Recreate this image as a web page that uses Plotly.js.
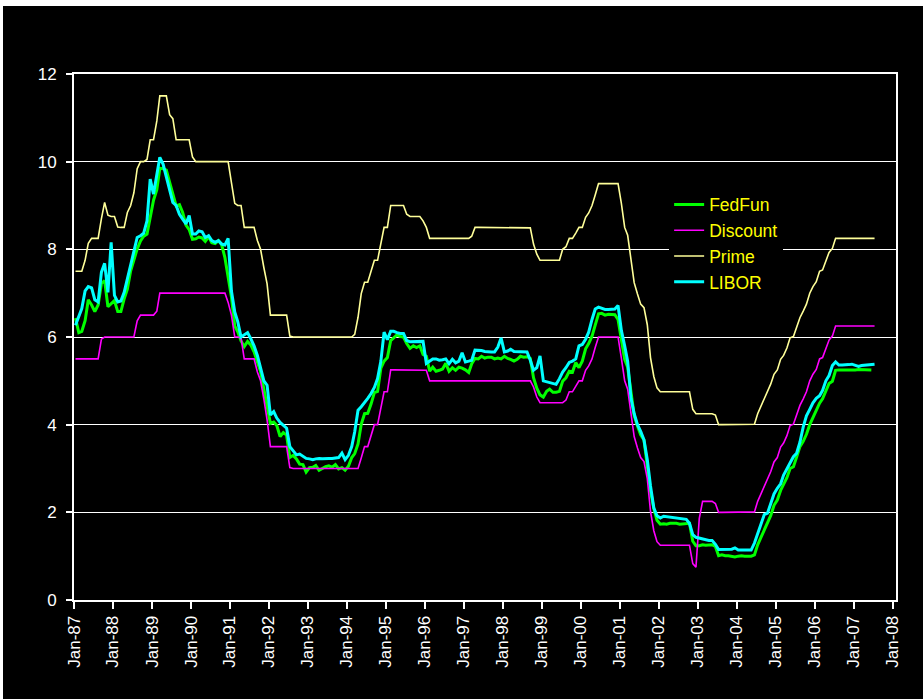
<!DOCTYPE html>
<html>
<head>
<meta charset="utf-8">
<script src="https://cdn.plot.ly/plotly-3.0.1.min.js"></script>
<style>
  html, body { margin: 0; padding: 0; background: #ffffff; }
  #chart { position: absolute; left: 3px; top: 6px; width: 920px; height: 693px; }
</style>
</head>
<body>
<div id="chart"></div>
<script>
// Monthly U.S. interest rates, January 1987 onward (percent).
const startYear = 1987;

const fedFunds = [
  6.43, 6.10, 6.13, 6.37, 6.85, 6.73, 6.58, 6.73, 7.22, 7.29, 6.69, 6.77,
  6.83, 6.58, 6.58, 6.87, 7.09, 7.51, 7.75, 8.01, 8.19, 8.30, 8.35, 8.76,
  9.12, 9.36, 9.85, 9.84, 9.81, 9.53, 9.24, 8.99, 9.02, 8.84, 8.55, 8.45,
  8.23, 8.24, 8.28, 8.26, 8.18, 8.29, 8.15, 8.13, 8.20, 8.11, 7.81, 7.31,
  6.91, 6.25, 6.12, 5.91, 5.78, 5.90, 5.82, 5.66, 5.45, 5.21, 4.81, 4.43,
  4.03, 4.06, 3.98, 3.73, 3.82, 3.76, 3.25, 3.30, 3.22, 3.10, 3.09, 2.92,
  3.02, 3.03, 3.07, 2.96, 3.00, 3.04, 3.06, 3.03, 3.09, 2.99, 3.02, 2.96,
  3.05, 3.25, 3.34, 3.56, 4.01, 4.25, 4.26, 4.47, 4.73, 4.76, 5.29, 5.45,
  5.53, 5.92, 5.98, 6.05, 6.01, 6.00, 5.85, 5.74, 5.80, 5.76, 5.80, 5.60,
  5.56, 5.22, 5.31, 5.22, 5.24, 5.27, 5.40, 5.22, 5.30, 5.24, 5.31, 5.29,
  5.25, 5.19, 5.39, 5.51, 5.50, 5.56, 5.52, 5.54, 5.54, 5.50, 5.52, 5.50,
  5.56, 5.51, 5.49, 5.45, 5.49, 5.56, 5.54, 5.55, 5.51, 5.07, 4.83, 4.68,
  4.63, 4.76, 4.81, 4.74, 4.74, 4.76, 4.99, 5.07, 5.22, 5.20, 5.42, 5.30,
  5.45, 5.73, 5.85, 6.02, 6.27, 6.53, 6.54, 6.50, 6.52, 6.51, 6.51, 6.40,
  5.98, 5.49, 5.31, 4.80, 4.21, 3.97, 3.77, 3.65, 3.07, 2.49, 2.09, 1.82,
  1.73, 1.74, 1.73, 1.75, 1.75, 1.75, 1.73, 1.74, 1.75, 1.75, 1.34, 1.24,
  1.24, 1.26, 1.25, 1.26, 1.26, 1.22, 1.01, 1.03, 1.01, 1.01, 1.00, 0.98,
  1.00, 1.01, 1.00, 1.00, 1.00, 1.03, 1.26, 1.43, 1.61, 1.76, 1.93, 2.16,
  2.28, 2.50, 2.63, 2.79, 3.00, 3.04, 3.26, 3.50, 3.62, 3.78, 4.00, 4.16,
  4.29, 4.49, 4.59, 4.79, 4.94, 4.99, 5.24, 5.25, 5.25, 5.25, 5.25, 5.24,
  5.25, 5.26, 5.26, 5.25, 5.25, 5.25
];

const discount = [
  5.50, 5.50, 5.50, 5.50, 5.50, 5.50, 5.50, 5.50, 5.95, 6.00, 6.00, 6.00,
  6.00, 6.00, 6.00, 6.00, 6.00, 6.00, 6.00, 6.37, 6.50, 6.50, 6.50, 6.50,
  6.50, 6.59, 7.00, 7.00, 7.00, 7.00, 7.00, 7.00, 7.00, 7.00, 7.00, 7.00,
  7.00, 7.00, 7.00, 7.00, 7.00, 7.00, 7.00, 7.00, 7.00, 7.00, 7.00, 6.79,
  6.50, 6.00, 6.00, 5.98, 5.50, 5.50, 5.50, 5.50, 5.20, 5.00, 4.58, 4.11,
  3.50, 3.50, 3.50, 3.50, 3.50, 3.50, 3.02, 3.00, 3.00, 3.00, 3.00, 3.00,
  3.00, 3.00, 3.00, 3.00, 3.00, 3.00, 3.00, 3.00, 3.00, 3.00, 3.00, 3.00,
  3.00, 3.00, 3.00, 3.00, 3.24, 3.50, 3.50, 3.76, 4.00, 4.00, 4.40, 4.75,
  4.75, 5.25, 5.25, 5.25, 5.25, 5.25, 5.25, 5.25, 5.25, 5.25, 5.25, 5.25,
  5.24, 5.00, 5.00, 5.00, 5.00, 5.00, 5.00, 5.00, 5.00, 5.00, 5.00, 5.00,
  5.00, 5.00, 5.00, 5.00, 5.00, 5.00, 5.00, 5.00, 5.00, 5.00, 5.00, 5.00,
  5.00, 5.00, 5.00, 5.00, 5.00, 5.00, 5.00, 5.00, 5.00, 4.86, 4.63, 4.50,
  4.50, 4.50, 4.50, 4.50, 4.50, 4.50, 4.50, 4.56, 4.75, 4.75, 4.88, 5.00,
  5.00, 5.24, 5.34, 5.50, 5.76, 6.00, 6.00, 6.00, 6.00, 6.00, 6.00, 6.00,
  5.52, 5.00, 4.81, 4.28, 3.73, 3.47, 3.25, 3.16, 2.77, 2.02, 1.58, 1.33,
  1.25, 1.25, 1.25, 1.25, 1.25, 1.25, 1.25, 1.25, 1.25, 1.25, 0.83, 0.75,
  1.86, 2.25, 2.25, 2.25, 2.25, 2.20, 2.00, 2.00, 2.00, 2.00, 2.00, 2.00,
  2.00, 2.00, 2.00, 2.00, 2.00, 2.01, 2.25, 2.43, 2.58, 2.75, 2.93, 3.15,
  3.25, 3.49, 3.58, 3.75, 3.98, 4.01, 4.25, 4.44, 4.59, 4.75, 5.00, 5.15,
  5.26, 5.50, 5.53, 5.75, 5.93, 6.02, 6.25, 6.25, 6.25, 6.25, 6.25, 6.25,
  6.25, 6.25, 6.25, 6.25, 6.25, 6.25, 6.25
];

const prime = [
  7.50, 7.50, 7.50, 7.75, 8.14, 8.25, 8.25, 8.25, 8.70, 9.07, 8.78, 8.75,
  8.75, 8.51, 8.50, 8.50, 8.84, 9.00, 9.29, 9.84, 10.00, 10.00, 10.05, 10.50,
  10.50, 10.93, 11.50, 11.50, 11.50, 11.07, 10.98, 10.50, 10.50, 10.50, 10.50, 10.50,
  10.11, 10.00, 10.00, 10.00, 10.00, 10.00, 10.00, 10.00, 10.00, 10.00, 10.00, 10.00,
  9.52, 9.05, 9.00, 9.00, 8.50, 8.50, 8.50, 8.50, 8.20, 8.00, 7.58, 7.21,
  6.50, 6.50, 6.50, 6.50, 6.50, 6.50, 6.02, 6.00, 6.00, 6.00, 6.00, 6.00,
  6.00, 6.00, 6.00, 6.00, 6.00, 6.00, 6.00, 6.00, 6.00, 6.00, 6.00, 6.00,
  6.00, 6.00, 6.06, 6.45, 6.99, 7.25, 7.25, 7.51, 7.75, 7.75, 8.15, 8.50,
  8.50, 9.00, 9.00, 9.00, 9.00, 9.00, 8.80, 8.75, 8.75, 8.75, 8.75, 8.65,
  8.50, 8.25, 8.25, 8.25, 8.25, 8.25, 8.25, 8.25, 8.25, 8.25, 8.25, 8.25,
  8.25, 8.25, 8.30, 8.50, 8.50, 8.50, 8.50, 8.50, 8.50, 8.50, 8.50, 8.50,
  8.50, 8.50, 8.50, 8.50, 8.50, 8.50, 8.50, 8.50, 8.49, 8.12, 7.89, 7.75,
  7.75, 7.75, 7.75, 7.75, 7.75, 7.75, 8.00, 8.06, 8.25, 8.25, 8.37, 8.50,
  8.50, 8.73, 8.83, 9.00, 9.24, 9.50, 9.50, 9.50, 9.50, 9.50, 9.50, 9.50,
  9.05, 8.50, 8.32, 7.80, 7.24, 6.98, 6.75, 6.67, 6.28, 5.53, 5.10, 4.84,
  4.75, 4.75, 4.75, 4.75, 4.75, 4.75, 4.75, 4.75, 4.75, 4.75, 4.35, 4.25,
  4.25, 4.25, 4.25, 4.25, 4.25, 4.22, 4.00, 4.00, 4.00, 4.00, 4.00, 4.00,
  4.00, 4.00, 4.00, 4.00, 4.00, 4.01, 4.25, 4.43, 4.58, 4.75, 4.93, 5.15,
  5.25, 5.49, 5.58, 5.75, 5.98, 6.01, 6.25, 6.44, 6.59, 6.75, 7.00, 7.15,
  7.26, 7.50, 7.53, 7.75, 7.93, 8.02, 8.25, 8.25, 8.25, 8.25, 8.25, 8.25,
  8.25, 8.25, 8.25, 8.25, 8.25, 8.25, 8.25
];

const libor = [
  6.27, 6.45, 6.65, 7.05, 7.15, 7.12, 6.85, 6.80, 7.48, 7.68, 7.02, 8.16,
  6.95, 6.80, 6.82, 7.02, 7.33, 7.63, 7.93, 8.27, 8.31, 8.37, 8.65, 9.60,
  9.26, 9.67, 10.10, 9.94, 9.67, 9.37, 9.07, 9.00, 8.80, 8.69, 8.58, 8.77,
  8.35, 8.35, 8.42, 8.40, 8.27, 8.31, 8.20, 8.16, 8.20, 8.12, 8.10, 8.25,
  7.05, 6.57, 6.35, 6.00, 6.05, 6.10, 5.96, 5.80, 5.58, 5.30, 5.00, 4.90,
  4.22, 4.30, 4.15, 4.05, 3.99, 3.92, 3.50, 3.39, 3.31, 3.33, 3.28, 3.23,
  3.22, 3.20, 3.22, 3.23, 3.22, 3.23, 3.23, 3.23, 3.24, 3.25, 3.35, 3.20,
  3.30, 3.50, 3.84, 4.33, 4.41, 4.50, 4.60, 4.71, 4.85, 5.05, 5.45, 6.11,
  5.94, 6.13, 6.13, 6.10, 6.08, 6.08, 5.92, 5.89, 5.89, 5.89, 5.89, 5.90,
  5.40, 5.45, 5.50, 5.50, 5.47, 5.48, 5.50, 5.39, 5.49, 5.41, 5.45, 5.64,
  5.43, 5.45, 5.47, 5.70, 5.70, 5.69, 5.67, 5.66, 5.66, 5.66, 5.77, 5.98,
  5.66, 5.68, 5.72, 5.67, 5.67, 5.67, 5.67, 5.66, 5.47, 5.24, 5.30, 5.57,
  5.00, 4.98, 4.96, 4.94, 4.92, 5.05, 5.20, 5.30, 5.42, 5.45, 5.50, 5.80,
  5.83, 5.95, 6.11, 6.40, 6.64, 6.68, 6.65, 6.63, 6.63, 6.63, 6.64, 6.72,
  6.15, 5.80, 5.45, 4.60, 4.25, 4.00, 3.85, 3.65, 3.20, 2.60, 2.10, 1.92,
  1.87, 1.91, 1.90, 1.89, 1.87, 1.87, 1.86, 1.84, 1.84, 1.75, 1.49, 1.43,
  1.41, 1.39, 1.37, 1.36, 1.36, 1.27, 1.15, 1.15, 1.15, 1.15, 1.16, 1.19,
  1.14, 1.14, 1.14, 1.14, 1.14, 1.30, 1.50, 1.75, 1.95, 1.98, 2.20, 2.42,
  2.55, 2.65, 2.85, 3.00, 3.15, 3.27, 3.35, 3.60, 3.95, 4.20, 4.35, 4.50,
  4.60, 4.66, 4.78, 5.00, 5.12, 5.35, 5.43, 5.36, 5.36, 5.36, 5.37, 5.38,
  5.35, 5.33, 5.35, 5.36, 5.36, 5.38, 5.38
];

const seriesNames = ['FedFun', 'Discount', 'Prime', 'LIBOR'];
const seriesColors = ['#00ff00', '#ff00ff', '#ffff99', '#00ffff'];
const seriesWidths = [3, 1.6, 1.6, 3];

// one point per month, placed mid-month
function monthDates(count) {
  const out = [];
  for (let i = 0; i < count; i++) {
    const y = startYear + Math.floor(i / 12);
    const m = (i % 12) + 1;
    out.push(y + '-' + String(m).padStart(2, '0') + '-15');
  }
  return out;
}

const allSeries = [fedFunds, discount, prime, libor];
const traces = allSeries.map((vals, i) => ({
  type: 'scatter',
  mode: 'lines',
  name: seriesNames[i],
  x: monthDates(vals.length),
  y: vals,
  line: { color: seriesColors[i], width: seriesWidths[i] }
}));

const axisFont = { family: 'Liberation Sans, Arial, sans-serif', size: 17, color: '#ffffff' };

const layout = {
  width: 920,
  height: 693,
  paper_bgcolor: '#000000',
  plot_bgcolor: '#000000',
  margin: { l: 71, r: 26.5, t: 67.5, b: 98.5, pad: 0 },
  showlegend: true,
  legend: {
    x: 0.724, y: 0.786, xanchor: 'left', yanchor: 'top',
    bgcolor: '#000000', borderwidth: 0,
    font: { family: 'Liberation Sans, Arial, sans-serif', size: 17.5, color: '#ffff00' }
  },
  xaxis: {
    type: 'date',
    range: ['1987-01-01', '2008-02-01'],
    tick0: '1987-01-01',
    dtick: 'M12',
    tickformat: '%b-%y',
    tickangle: -90,
    ticks: 'outside', ticklen: 7, tickwidth: 2, tickcolor: '#ffffff',
    showline: true, linecolor: '#ffffff', linewidth: 2, mirror: true,
    showgrid: false, zeroline: false,
    tickfont: axisFont
  },
  yaxis: {
    range: [0, 12],
    dtick: 2,
    ticks: 'outside', ticklen: 6, tickwidth: 2, tickcolor: '#ffffff',
    showline: true, linecolor: '#ffffff', linewidth: 2, mirror: true,
    showgrid: true, gridcolor: '#ffffff', gridwidth: 1,
    zeroline: false,
    ticklabelstandoff: 6,
    tickfont: axisFont
  }
};

Plotly.newPlot('chart', traces, layout, { displayModeBar: false, staticPlot: true });
</script>
</body>
</html>
